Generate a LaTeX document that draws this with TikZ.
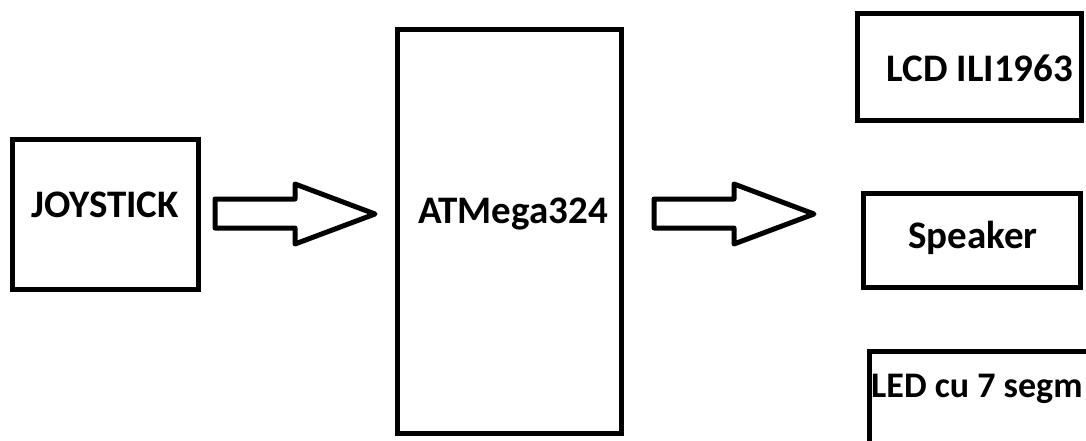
\documentclass[tikz,border=0pt]{standalone}
\usepackage{fontspec}
\setmainfont{Carlito}
\usetikzlibrary{positioning}

\tikzset{
  box/.style={draw, line width=5pt, inner sep=0pt},
  lbl/.style={anchor=base, inner sep=0pt, font=\fontsize{39}{44}\selectfont\bfseries},
  fatarrow/.style={draw, line width=5pt, line join=round}
}

\begin{document}
\begin{tikzpicture}[x=1pt, y=-1pt]
\useasboundingbox (0,0) rectangle (1086,441);
\clip (0,0) rectangle (1086,441);
 % blocks
 \node[box, minimum width=186pt, minimum height=150pt] (joy) at (105,214) {};
 \node[box, minimum width=224pt, minimum height=403pt] (mcu) at (509,231.5) {};
 \node[box, minimum width=224pt, minimum height=107pt] (lcd) at (969,67.5) {};
 \node[box, minimum width=217pt, minimum height=94pt] (spk) at (971.5,240) {};
 \node[box, minimum width=240pt, minimum height=120pt, anchor=north west] (led) at (867,349) {};
 % texts
 \node[lbl] at (105,217) {JOYSTICK};
 \node[lbl] at (513,223) {ATMega324};
 \node[lbl] at (980,82) {LCD ILI1963};
 \node[lbl] at (973,248) {Speaker};
 \node[lbl, anchor=base west, font=\fontsize{36}{41}\selectfont\bfseries] at (871,397) {LED cu 7 segm};
 % block arrows
 \foreach \x in {215,654}
  \draw[fatarrow] (\x,199) -- ++(80,0) -- ++(0,-15) -- ++(80,30) -- ++(-80,30) -- ++(0,-16) -- ++(-80,0) -- cycle;
\end{tikzpicture}
\end{document}
